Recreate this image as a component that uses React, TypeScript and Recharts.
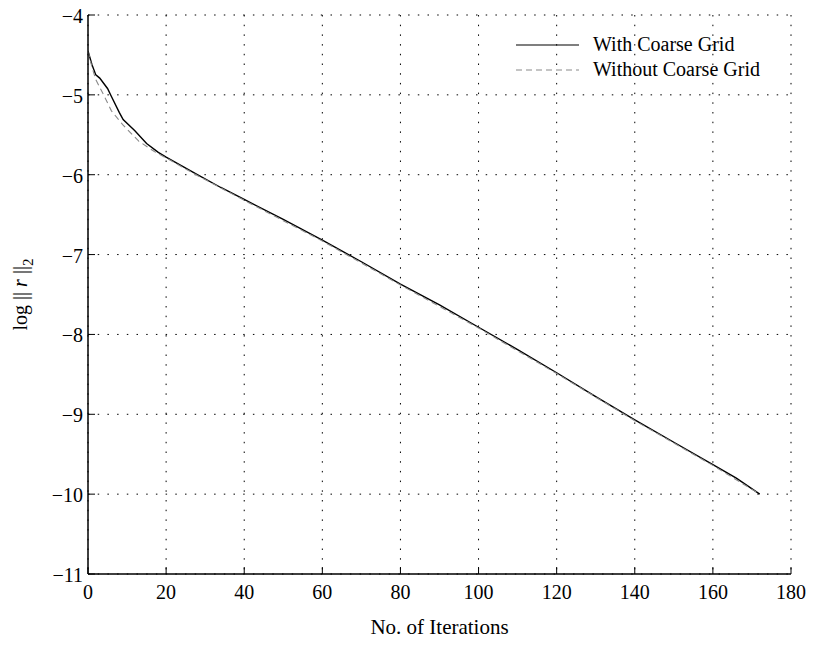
import { LineChart, Line, XAxis, YAxis, CartesianGrid, Legend } from 'recharts'

const xWith = [0, 1, 2, 3, 5, 6, 8, 9, 12, 15, 18, 20, 24, 28, 34, 40, 50, 60, 70, 80, 90, 100, 110, 120, 130, 140, 150, 160, 166, 172]
const yWith = [-4.45, -4.62, -4.75, -4.79, -4.92, -5.02, -5.22, -5.31, -5.45, -5.61, -5.72, -5.78, -5.89, -6.0, -6.16, -6.31, -6.56, -6.82, -7.09, -7.37, -7.63, -7.91, -8.19, -8.48, -8.78, -9.07, -9.35, -9.63, -9.8, -10.0]

const xWithout = [0, 1, 2, 4, 6, 9, 13, 17, 20, 24, 28, 40, 60, 80, 100, 120, 140, 160, 172]
const yWithout = [-4.45, -4.65, -4.81, -5.0, -5.2, -5.38, -5.58, -5.71, -5.79, -5.9, -6.01, -6.32, -6.83, -7.38, -7.92, -8.49, -9.08, -9.64, -10.0]

const xTicks = [0, 20, 40, 60, 80, 100, 120, 140, 160, 180]
const yTicks = [-11, -10, -9, -8, -7, -6, -5, -4]

const withData = xWith.map((x, i) => ({ it: x, v: yWith[i] }))
const withoutData = xWithout.map((x, i) => ({ it: x, v: yWithout[i] }))

const FONT = '"Liberation Serif", "Times New Roman", serif'
const FS = 20
const TICK_LEN = 7

const fmtY = (v: number) => (v < 0 ? '\u2212' + Math.abs(v) : String(v))

function BottomTick({ x, y, payload }: any) {
  return (
    <g>
      <line x1={x} y1={y} x2={x} y2={y - TICK_LEN} stroke="#000" />
      <text x={x} y={y + 25} textAnchor="middle" fontSize={FS} fontFamily={FONT} fill="#000">
        {payload.value}
      </text>
    </g>
  )
}

function LeftTick({ x, y, payload }: any) {
  return (
    <g>
      <line x1={x} y1={y} x2={x + TICK_LEN} y2={y} stroke="#000" />
      <text x={x - 5} y={y + 8} textAnchor="end" fontSize={FS} fontFamily={FONT} fill="#000">
        {fmtY(payload.value)}
      </text>
    </g>
  )
}

function TopTick({ x, y }: any) {
  return <line x1={x} y1={y} x2={x} y2={y + TICK_LEN} stroke="#000" />
}

function RightTick({ x, y }: any) {
  return <line x1={x} y1={y} x2={x - TICK_LEN} y2={y} stroke="#000" />
}

function YLabel({ viewBox }: any) {
  const cy = viewBox.y + viewBox.height / 2
  const cx = 27
  return (
    <text
      transform={`translate(${cx}, ${cy}) rotate(-90)`}
      textAnchor="middle"
      fontSize={20}
      fontFamily={FONT}
      fill="#000"
    >
      log || <tspan fontStyle="italic">r</tspan> ||<tspan dy={6} fontSize={15}>2</tspan>
    </text>
  )
}

function renderLegend(props: any) {
  const items = props.payload ?? []
  return (
    <svg width={300} height={60}>
      {items.map((p: any, i: number) => (
        <g key={p.value}>
          <line
            x1={16}
            x2={79}
            y1={17 + i * 25}
            y2={17 + i * 25}
            stroke={p.color}
            strokeWidth={1.2}
            strokeDasharray={i === 1 ? '6 4' : undefined}
          />
          <text x={93} y={23 + i * 25} fontSize={FS} fontFamily={FONT} fill="#000">
            {p.value}
          </text>
        </g>
      ))}
    </svg>
  )
}

export default function App() {
  return (
    <div style={{ position: 'absolute', left: 0, top: 0, width: 813, height: 648, background: '#fff' }}>
      <LineChart width={813} height={648} margin={{ top: 15, right: 22, bottom: 0, left: 28 }}>
        <CartesianGrid stroke="#000" strokeDasharray="1.5 8.2" xAxisId={0} yAxisId={0} />
        <XAxis
          dataKey="it"
          type="number"
          domain={[0, 180]}
          ticks={xTicks}
          height={74}
          tickSize={0}
          tickMargin={0}
          tick={<BottomTick />}
          axisLine={{ stroke: '#000', strokeWidth: 1.5 }}
          tickLine={false}
          allowDataOverflow
          label={{ value: 'No. of Iterations', position: 'insideBottom', offset: 14, fontSize: 21, fontFamily: FONT, fill: '#000' }}
        />
        <XAxis
          xAxisId="top"
          orientation="top"
          dataKey="it"
          type="number"
          domain={[0, 180]}
          ticks={xTicks}
          height={0}
          tickSize={0}
          tickMargin={0}
          tick={<TopTick />}
          axisLine={{ stroke: '#000', strokeWidth: 1.5 }}
          tickLine={false}
        />
        <YAxis
          type="number"
          domain={[-11, -4]}
          ticks={yTicks}
          width={60}
          tickSize={0}
          tickMargin={0}
          tick={<LeftTick />}
          axisLine={{ stroke: '#000', strokeWidth: 1.5 }}
          tickLine={false}
          label={<YLabel />}
        />
        <YAxis
          yAxisId="right"
          orientation="right"
          type="number"
          domain={[-11, -4]}
          ticks={yTicks}
          width={0}
          tickSize={0}
          tickMargin={0}
          tick={<RightTick />}
          axisLine={{ stroke: '#000', strokeWidth: 1.5 }}
          tickLine={false}
        />
        <Legend
          layout="horizontal"
          verticalAlign="middle"
          align="center"
          content={renderLegend}
          wrapperStyle={{ position: 'absolute', left: 500, top: 28, width: 300, height: 60 }}
        />
        <Line
          data={withData}
          dataKey="v"
          name="With Coarse Grid"
          stroke="#000"
          strokeWidth={1.4}
          dot={false}
          isAnimationActive={false}
        />
        <Line
          data={withoutData}
          dataKey="v"
          name="Without Coarse Grid"
          stroke="#8a8a8a"
          strokeWidth={1.1}
          strokeDasharray="6 4"
          dot={false}
          isAnimationActive={false}
        />
      </LineChart>
    </div>
  )
}
